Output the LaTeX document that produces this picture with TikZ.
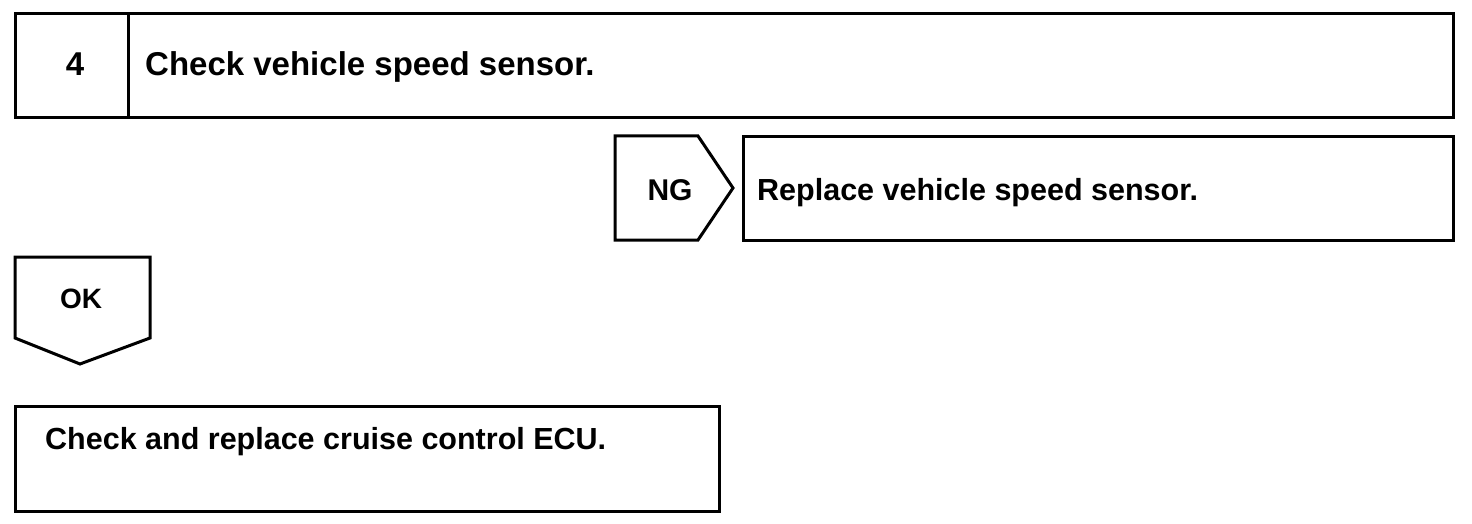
\documentclass[tikz,border=0pt]{standalone}
\usepackage{fontspec}
\setmainfont{Liberation Sans}
\begin{document}
\begin{tikzpicture}[x=1pt,y=-1pt,
  box/.style={draw=black,line width=3pt,line join=miter},
  lbl/.style={inner sep=0pt,font=\bfseries\fontsize{#1}{#1}\selectfont},
  lbl/.default=30.5]
\useasboundingbox[fill=white] (0,0) rectangle (1472,524);
% step 4 header
\draw[box] (15,14) rectangle (1453,118);
\draw[box] (128,14) -- (128,118);
\node[lbl=33,anchor=base] (num) at (75,76) {4};
\node[lbl=33,anchor=base west] (step) at (145,76) {Check vehicle speed sensor.};
% NG branch
\draw[box] (615,136) -- (698,136) -- (733,188) -- (698,240) -- (615,240) -- cycle;
\node[lbl=30,anchor=base] (ng) at (670,200) {NG};
\draw[box] (743,137) rectangle (1453,240);
\node[lbl,anchor=base west] (repl) at (757,200) {Replace vehicle speed sensor.};
% OK branch
\draw[box] (15,257) -- (150,257) -- (150,338) -- (80,364) -- (15,338) -- cycle;
\node[lbl=28,anchor=base] (ok) at (81,308) {OK};
\draw[box] (15,406) rectangle (719,511);
\node[lbl,anchor=base west] (ecu) at (45,449) {Check and replace cruise control ECU.};
\end{tikzpicture}
\end{document}
